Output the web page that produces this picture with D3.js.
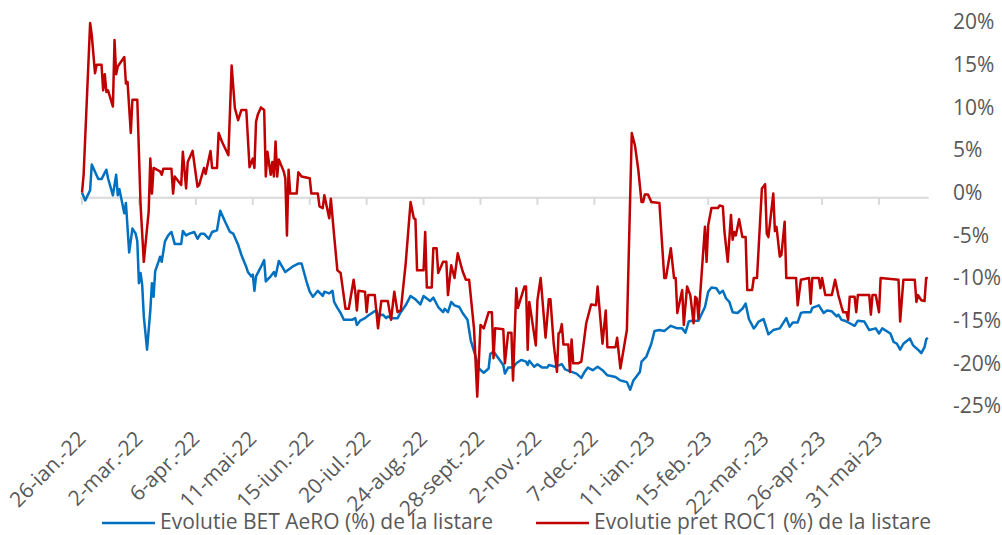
<!DOCTYPE html>
<html><head><meta charset="utf-8">
<script src="https://cdn.jsdelivr.net/npm/d3@7"></script>
<style>
body{margin:0;background:#fff}
svg{display:block}
text{font-family:"Open Sans",sans-serif;fill:#595959}
</style>
</head><body>
<svg id="chart" width="1002" height="535"></svg>
<script>
// ---- data ----
const listingDate = "2022-01-26";           // day 0 = listing date
const tickStepDays = 35;
const tickLabels = ["26-ian.-22","2-mar.-22","6-apr.-22","11-mai-22","15-iun.-22","20-iul.-22","24-aug.-22","28-sept.-22","2-nov.-22","7-dec.-22","11-ian.-23","15-feb.-23","22-mar.-23","26-apr.-23","31-mai-23"];
const yTicks = [20,15,10,5,0,-5,-10,-15,-20,-25];
const seriesNames = ["Evolutie BET AeRO (%) de la listare","Evolutie pret ROC1 (%) de la listare"];
const axisCrossValue = -0.6;

// calendar days since listing, and % evolution (BET AeRO)
const blueDays = [
0,2,5,6,10,12,15,16,19,21,
22,23,26,27,29,31,33,34,35,36,
37,38,40,42,43,44,45,47,48,49,
51,53,55,57,61,62,64,66,69,71,
73,75,78,80,83,85,88,91,93,96,
98,101,102,104,105,106,107,110,112,113,
116,118,119,121,125,130,133,135,138,140,
142,145,148,149,152,154,155,157,159,161,
166,168,169,171,174,176,179,181,182,185,
187,188,190,194,196,199,202,205,208,210,
214,216,219,222,223,225,227,229,232,234,
237,239,242,244,247,250,251,253,256,259,
260,262,265,267,270,273,274,275,278,280,
283,286,287,291,295,297,301,304,307,309,
311,314,317,320,323,328,331,333,335,337,
339,341,343,344,347,350,352,355,358,360,
362,366,369,371,373,375,379,383,385,387,
390,392,394,396,398,400,403,406,408,410,
413,414,416,419,422,425,429,433,435,437,
440,442,444,448,449,453,456,458,461,464,
465,467,469,472,475,477,481,484,488,490,
492,497,499,501,503,505,509,511,514,516,
518,519,520];
const blueValues = [
0,-0.9,0.3,3.3,1.6,1.6,2.7,1.7,-0.3,2.1,
-0.3,0.4,-2.4,-1.2,-7.0,-4.2,-4.8,-5.7,-10.6,-9.4,
-10.8,-14.5,-18.4,-13.8,-10.6,-12.2,-9.2,-8.1,-7.5,-8.1,
-5.7,-5.0,-4.6,-6.0,-6.0,-4.5,-5.0,-4.8,-4.6,-5.4,
-4.8,-4.8,-5.4,-4.6,-4.4,-2.1,-3.4,-4.6,-4.8,-6.1,
-7.3,-8.7,-9.3,-9.8,-9.6,-11.5,-9.8,-8.7,-7.9,-10.4,
-9.8,-9.3,-9.8,-8.0,-9.3,-8.6,-8.3,-8.3,-10.4,-11.6,
-12.2,-11.5,-12.1,-11.6,-11.8,-11.5,-12.8,-13.5,-14.1,-14.9,
-14.9,-14.7,-15.5,-15.0,-14.7,-14.4,-14.0,-13.8,-14.4,-14.3,
-14.7,-14.5,-14.7,-14.7,-14.0,-13.2,-12.1,-12.5,-13.1,-12.1,
-12.7,-12.3,-13.4,-14.0,-13.6,-14.0,-12.8,-13.2,-13.4,-14.1,
-14.9,-17.3,-19.2,-20.6,-21.1,-20.6,-18.9,-18.6,-19.4,-20.2,
-21.2,-20.5,-20.5,-20.0,-19.6,-19.8,-20.2,-19.7,-20.4,-20.1,
-20.5,-20.5,-20.2,-20.4,-20.1,-20.7,-21.0,-21.2,-21.7,-21.0,
-20.5,-20.8,-20.4,-20.8,-21.4,-21.6,-22.0,-22.1,-22.2,-23.1,
-22.0,-21.5,-21.0,-19.8,-19.2,-17.7,-16.2,-16.1,-16.2,-15.9,
-15.6,-15.9,-15.9,-16.4,-15.1,-15.0,-15.0,-13.4,-11.6,-11.1,
-11.2,-11.8,-11.5,-12.4,-12.8,-14.0,-14.1,-13.6,-13.0,-14.8,
-15.9,-15.7,-15.1,-14.8,-16.6,-16.1,-15.9,-14.7,-15.7,-15.2,
-15.2,-14.1,-14.0,-14.0,-13.5,-13.2,-14.1,-13.8,-13.9,-14.5,
-14.3,-14.9,-15.0,-15.3,-15.6,-15.0,-15.1,-16.1,-15.9,-16.5,
-15.9,-16.5,-17.5,-17.7,-18.4,-17.7,-17.1,-17.9,-18.4,-18.8,
-18.1,-17.2,-17.0];

// calendar days since listing, and % evolution (ROC1 price)
const redDays = [
0,1,5,6,8,9,12,13,14,15,
16,19,20,21,22,26,27,28,30,31,
34,36,38,41,42,43,44,48,49,50,
55,56,57,61,62,64,65,68,71,72,
75,76,79,80,83,84,86,90,92,94,
96,98,101,103,105,106,107,108,110,112,
113,114,116,117,118,119,120,121,124,125,
126,127,128,132,133,135,140,141,145,146,
148,149,152,153,155,157,159,162,164,167,
168,169,170,174,175,176,180,182,184,188,
190,192,194,196,199,202,204,205,206,210,
211,212,215,216,218,219,222,224,225,227,
229,231,234,236,238,241,243,245,247,250,
252,253,254,259,260,262,264,265,267,268,
272,273,274,275,279,280,282,285,287,288,
290,292,293,294,295,296,299,300,301,302,
305,307,310,313,316,317,320,322,323,328,
329,331,335,338,340,342,344,345,346,348,
350,355,358,359,362,364,365,366,369,370,
372,374,376,377,378,379,383,384,385,387,
391,392,394,395,397,399,400,401,402,404,
406,408,409,412,413,415,418,420,421,422,
425,426,427,429,430,432,433,439,440,442,
447,448,449,453,454,455,457,461,463,465,
467,468,470,471,472,475,476,477,484,485,
486,488,490,491,502,503,505,512,513,514,
516,518,519,520];
const redValues = [
0,2.1,19.9,18.5,14.0,15.0,15.0,12.0,13.9,11.8,
12.0,10.1,17.9,13.9,14.8,15.9,12.8,13.0,7.0,10.9,
10.9,-1.4,-8.1,-2.2,4.0,-0.1,2.9,2.5,2.1,2.8,
2.8,-0.1,1.9,0.9,4.8,0.5,3.6,4.9,0.7,0.9,
2.9,2.2,4.9,2.9,2.9,7.0,6.0,4.4,14.9,9.9,
8.5,9.7,9.7,3.0,4.0,2.9,8.3,9.1,10.0,9.7,
1.9,4.8,2.1,3.6,1.9,6.0,1.9,3.9,2.5,1.7,
-5.0,2.7,-0.1,-0.1,2.4,1.9,1.7,-0.1,-0.1,-1.6,
-1.8,-0.3,-3.0,-0.7,-5.0,-9.1,-9.4,-13.6,-13.6,-10.2,
-11.6,-13.8,-11.5,-11.6,-14.0,-12.0,-12.0,-15.9,-12.7,-12.7,
-14.9,-11.6,-14.0,-13.8,-8.3,-1.1,-3.0,-3.1,-9.1,-9.1,
-4.6,-11.1,-11.1,-6.5,-6.5,-9.4,-8.1,-8.1,-12.0,-8.5,
-10.0,-7.1,-9.2,-10.2,-10.2,-15.9,-23.9,-15.5,-15.9,-14.0,
-14.0,-19.4,-15.9,-16.0,-20.0,-16.4,-16.4,-22.0,-11.2,-13.5,
-11.0,-11.0,-18.4,-12.8,-17.9,-12.6,-10.0,-17.0,-12.5,-12.5,
-17.7,-21.0,-16.5,-16.3,-15.4,-17.8,-17.8,-21.0,-17.2,-20.0,
-20.0,-19.8,-15.3,-13.1,-13.2,-11.0,-17.7,-13.8,-18.1,-18.1,
-17.0,-20.6,-16.1,7.0,5.5,2.7,-1.1,-1.1,-0.2,-0.2,
-1.1,-1.2,-10.0,-10.0,-6.5,-10.0,-10.0,-14.1,-11.4,-15.5,
-11.0,-12.0,-15.3,-12.2,-12.4,-14.8,-4.0,-8.1,-3.8,-1.8,
-1.8,-1.5,-1.6,-4.6,-8.1,-2.6,-5.5,-4.6,-5.0,-3.1,
-5.2,-5.2,-11.4,-11.4,-10.0,-10.0,0.5,1.0,-4.8,-5.2,
-0.1,-4.5,-4.0,-7.5,-7.3,-3.4,-10.0,-10.0,-13.2,-10.2,
-10.0,-13.0,-10.0,-10.0,-11.2,-10.0,-12.0,-12.0,-10.2,-12.0,
-13.4,-14.0,-14.0,-14.9,-12.2,-12.2,-14.0,-12.0,-12.0,-14.3,
-12.0,-12.0,-14.0,-10.0,-10.2,-15.1,-10.2,-10.2,-12.8,-12.0,
-12.6,-12.7,-10.0,-10.0];

// ---- chart ----
const svg = d3.select("#chart");
const start = d3.timeParse("%Y-%m-%d")(listingDate);
const toDate = d => d3.timeDay.offset(start, d);
const tickDates = tickLabels.map((_, i) => toDate(i * tickStepDays));
const lastTick = tickDates[tickDates.length - 1];
const endDate = toDate(Math.max(d3.max(blueDays), d3.max(redDays)));

const x = d3.scaleTime().domain([start, lastTick]).range([82, 879]);
const y = d3.scaleLinear().domain([-25, 20]).range([406, 22.1]);

const colors = ["#0070C0", "#C00000"];

// category axis line (crosses slightly below 0)
const yCross = y(axisCrossValue);
svg.append("line")
  .attr("x1", x(start) - 2).attr("x2", x(endDate) + 1)
  .attr("y1", yCross).attr("y2", yCross)
  .attr("stroke", "#d9d9d9").attr("stroke-width", 2);
svg.append("g").selectAll("line").data(tickDates).join("line")
  .attr("x1", d => x(d)).attr("x2", d => x(d))
  .attr("y1", yCross).attr("y2", yCross + 7)
  .attr("stroke", "#d9d9d9").attr("stroke-width", 2);

// x labels (low position, rotated)
svg.append("g").selectAll("text").data(tickDates).join("text")
  .attr("transform", d => `translate(${x(d) + 5},440) rotate(-45)`)
  .attr("text-anchor", "end")
  .style("font-size", "21px")
  .text((d, i) => tickLabels[i]);

// y labels on right
svg.append("g").selectAll("text").data(yTicks).join("text")
  .attr("x", 953).attr("y", d => y(d)).attr("dy", "0.35em")
  .style("font-size", "21px")
  .text(d => d + "%");

// lines
const line = d3.line().x(d => x(d.date)).y(d => y(d.v));
const blue = blueDays.map((d, i) => ({date: toDate(d), v: blueValues[i]}));
const red = redDays.map((d, i) => ({date: toDate(d), v: redValues[i]}));
[blue, red].forEach((s, i) => {
  svg.append("path").datum(s)
    .attr("d", line)
    .attr("fill", "none")
    .attr("stroke", colors[i])
    .attr("stroke-width", 2.5)
    .attr("stroke-linejoin", "round");
});

// legend
const legendPos = [{lx: 102, tx: 160}, {lx: 536, tx: 594}];
legendPos.forEach((p, i) => {
  svg.append("line").attr("x1", p.lx).attr("x2", p.lx + 53)
    .attr("y1", 523).attr("y2", 523)
    .attr("stroke", colors[i]).attr("stroke-width", 2.5);
  svg.append("text").attr("x", p.tx).attr("y", 529)
    .style("font-size", "21px").text(seriesNames[i]);
});
</script>
</body></html>
